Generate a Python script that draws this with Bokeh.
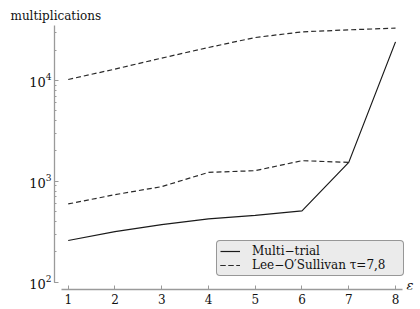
from bokeh.plotting import figure
from bokeh.models import Range1d, Title, Legend, LegendItem, LogTicker, FixedTicker
from bokeh.core.properties import value
from bokeh.embed import file_html
from bokeh.resources import INLINE

# ---- data ----
eps = [1, 2, 3, 4, 5, 6, 7, 8]
multi_trial = [259, 318, 373, 425, 459, 509, 1542, 24150]
eps_tau7 = [1, 2, 3, 4, 5, 6, 7]
lee_tau7 = [597, 738, 887, 1227, 1276, 1603, 1542]
lee_tau8 = [10230, 12970, 16670, 21230, 26670, 30340, 31760, 33050]
x_ticks = [1, 2, 3, 4, 5, 6, 7, 8]
y_label = "multiplications"
x_label = "ε"
legend_labels = ["Multi−trial", "Lee−O′Sullivan τ=7,8"]

FONT = "DejaVu Serif"
AXIS_GRAY = "#9a9a9a"

p = figure(frame_width=360, frame_height=264,
           x_range=Range1d(0.707, 8.406), y_range=Range1d(84.7, 35080),
           y_axis_type="log", output_backend="svg", toolbar_location=None,
           min_border_left=54, min_border_top=25, min_border_right=4,
           min_border_bottom=20)
p.outline_line_color = None
p.xgrid.visible = False
p.ygrid.visible = False

r_mt = p.line(eps, multi_trial, line_color="#1a1a1a", line_width=1.2)
r_t7 = p.line(eps_tau7, lee_tau7, line_color="#2a2a2a", line_width=1.2, line_dash="5 3")
r_t8 = p.line(eps, lee_tau8, line_color="#2a2a2a", line_width=1.2, line_dash="5 3")

# axes
for ax in (p.xaxis[0], p.yaxis[0]):
    ax.axis_line_color = AXIS_GRAY
    ax.axis_line_width = 1.3
    ax.major_tick_line_color = AXIS_GRAY
    ax.minor_tick_line_color = AXIS_GRAY
    ax.major_tick_in = 4
    ax.major_tick_out = 0
    ax.minor_tick_in = 2
    ax.minor_tick_out = 0
    ax.major_label_text_font = FONT
    ax.major_label_text_color = "#111111"

p.xaxis.ticker = FixedTicker(ticks=x_ticks)
p.xaxis.minor_tick_line_color = None
p.xaxis.bounds = (0.85, 8.143)
p.xaxis.major_label_text_font_size = "12px"
p.xaxis.major_label_standoff = 4

p.yaxis.ticker = LogTicker(num_minor_ticks=10)
p.yaxis.bounds = (100, 35080)
p.yaxis.major_label_text_font_size = "13px"
p.yaxis.major_label_standoff = 3

# legend
legend = Legend(items=[LegendItem(label=legend_labels[0], renderers=[r_mt]),
                       LegendItem(label=legend_labels[1], renderers=[r_t7, r_t8])],
                location=(162, 13))
legend.label_text_font = FONT
legend.label_text_font_size = "12px"
legend.label_text_color = "#111111"
legend.label_height = 12
legend.label_width = 148
legend.glyph_height = 12
legend.glyph_width = 20
legend.label_standoff = 12
legend.spacing = 0
legend.padding = 3
legend.margin = 0
legend.background_fill_color = "#ebebeb"
legend.background_fill_alpha = 1
legend.border_line_color = "#444444"
legend.border_line_width = 1
legend.border_radius = 4
p.add_layout(legend)

# axis titles
p.add_layout(Title(text=y_label, align="left", offset=-44, standoff=6,
                   text_font=FONT, text_font_size="12px", text_font_style="normal",
                   text_color="#111111"), "above")
p.text(x=[8.235], y=[92.9], text=[x_label], text_font=value(FONT),
       text_font_size="13px", text_font_style="italic", text_color="#111111",
       text_baseline="middle", text_align="left")

open("out.html", "w").write(file_html(p, INLINE))
